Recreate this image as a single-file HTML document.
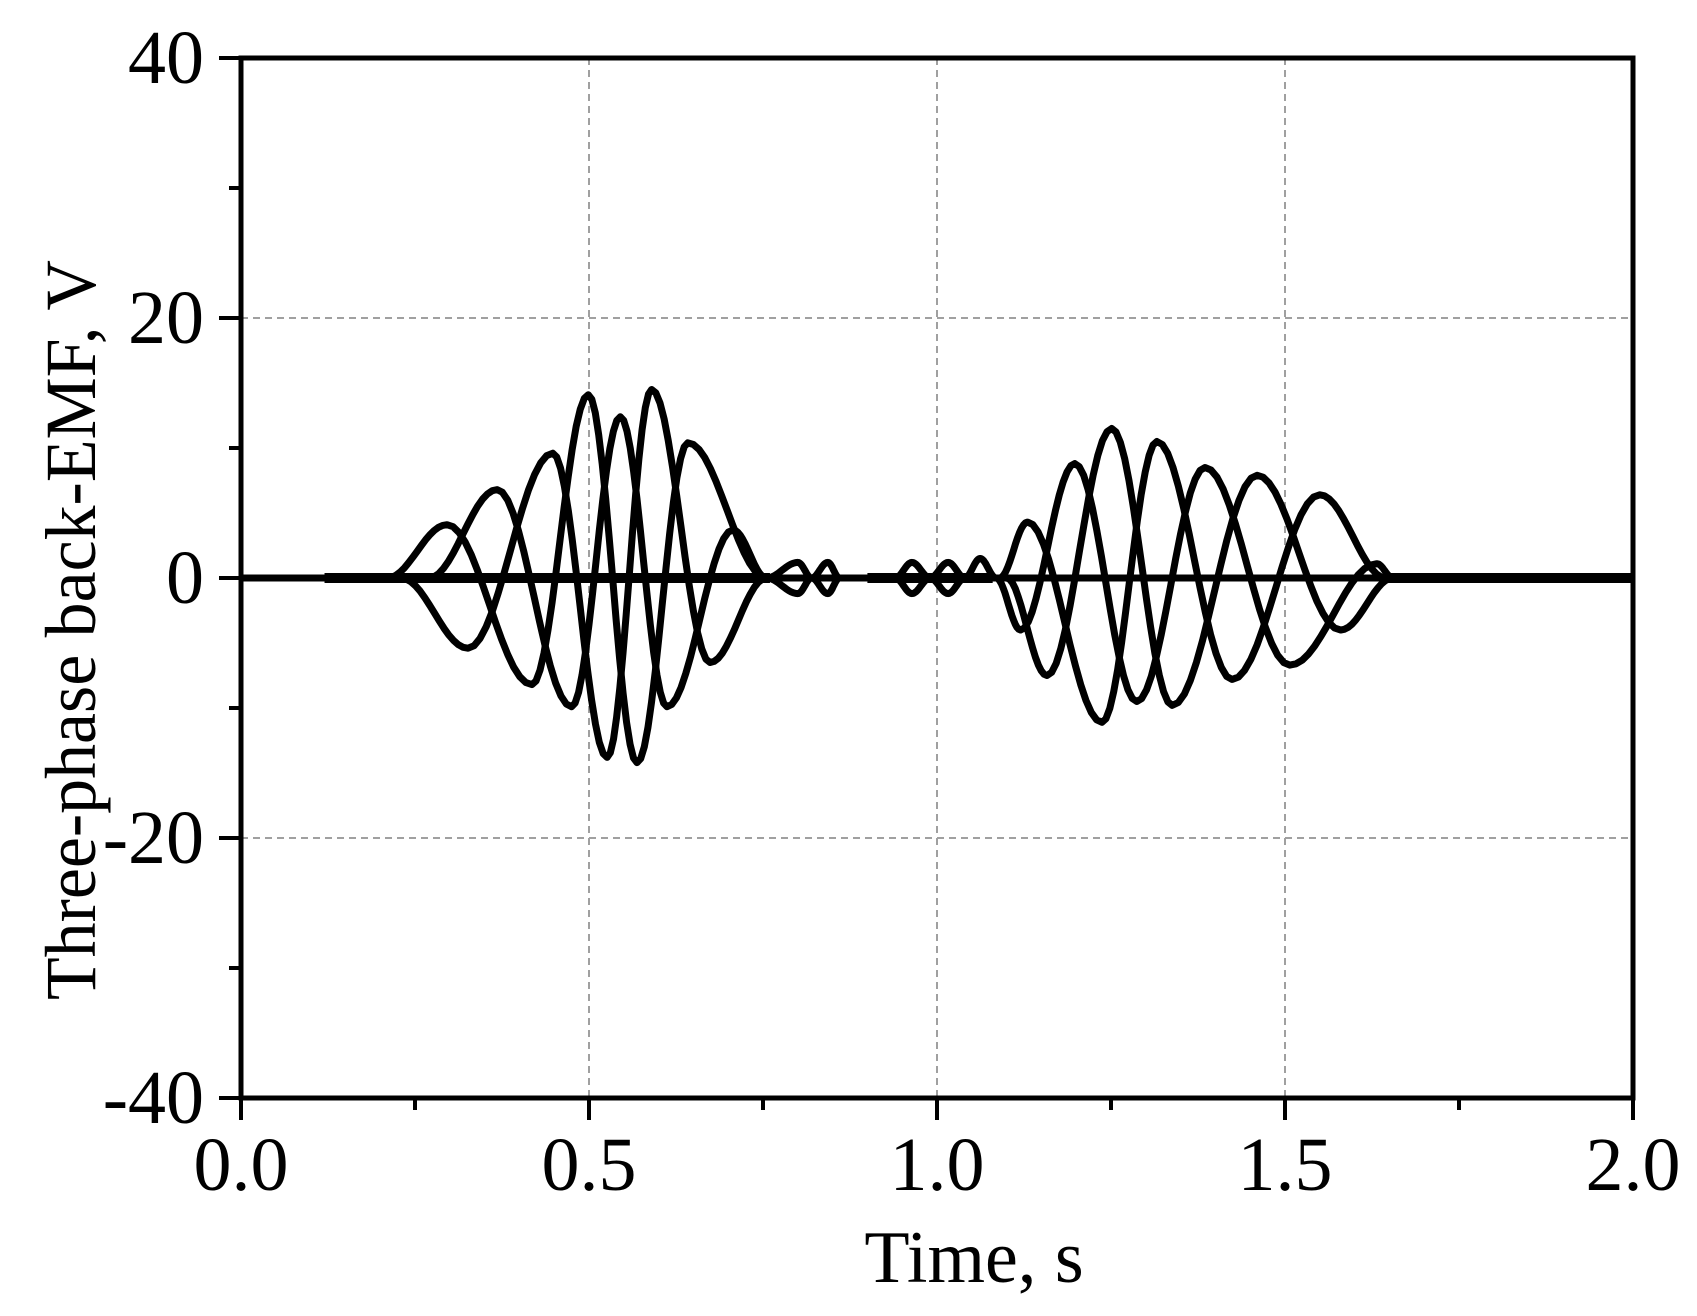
<!DOCTYPE html>
<html><head><meta charset="utf-8"><style>
html,body{margin:0;padding:0;background:#fff;}
svg{display:block;font-family:"Liberation Serif",serif;}
</style></head><body>
<svg id="chart" width="1697" height="1316" viewBox="0 0 1697 1316" xmlns="http://www.w3.org/2000/svg">
<g id="grid"></g>
<g id="series"></g>
<g id="axes"></g>
<text x="974" y="1282" font-size="74" text-anchor="middle">Time, s</text>
<text transform="translate(95,630) rotate(-90)" font-size="72" text-anchor="middle" textLength="740" lengthAdjust="spacingAndGlyphs">Three-phase back-EMF,  V</text>
</svg>
<script>
const xTicks=[0,0.5,1.0,1.5,2.0];
const xTickLabels=["0.0","0.5","1.0","1.5","2.0"];
const yTicks=[-40,-20,0,20,40];
const yTickLabels=["-40","-20","0","20","40"];
const phaseAT=[0,0.21,0.296,0.418,0.499,0.569,0.642,0.755,0.80,0.82,0.843,0.86,0.94,0.964,0.99,1.016,1.04,1.085,1.12,1.198,1.287,1.385,1.507,1.632,1.655,2];
const phaseAV=[0,0,4.1,-8.2,14.1,-14.2,10.4,0,1.2,0,1.2,0,0,1.2,0,1.2,0,0,-4,8.8,-9.5,8.5,-6.7,1.1,0,0];
const phaseBT=[0,0.27,0.368,0.475,0.545,0.612,0.707,0.755,0.80,0.82,0.843,0.86,2];
const phaseBV=[0,0,6.8,-9.9,12.4,-9.9,3.7,0,-1.2,0,-1.2,0,0];
const phaseCT=[0,0.23,0.326,0.448,0.526,0.590,0.674,0.755,0.94,0.964,0.99,1.016,1.04,1.062,1.085,1.09,1.13,1.237,1.316,1.424,1.55,1.645,1.655,2];
const phaseCV=[0,0,-5.4,9.6,-13.8,14.5,-6.5,0,0,-1.2,0,-1.2,0,1.5,0,0,4.3,-11.1,10.5,-7.8,6.4,0,0,0];
const phaseDT=[0,1.10,1.158,1.251,1.338,1.46,1.58,1.655,2];
const phaseDV=[0,0,-7.5,11.5,-9.8,7.9,-4,0,0];

const L=241,R=1633,T=58,B=1098;
const xs=t=>L+(t-0)/(2-0)*(R-L);
const ys=v=>B-(v+40)/80*(B-T);
const NS="http://www.w3.org/2000/svg";
function mk(tag,parent){const e=document.createElementNS(NS,tag);parent.appendChild(e);return e;}
const grid=document.getElementById('grid'),axes=document.getElementById('axes'),series=document.getElementById('series');

xTicks.forEach((t,i)=>{
  if(t>0&&t<2){const g=mk('line',grid);
  
  
  g.setAttribute('x1',xs(t));g.setAttribute('x2',xs(t));g.setAttribute('y1',T);g.setAttribute('y2',B);
  g.setAttribute('stroke','#a0a0a0');g.setAttribute('stroke-width','2');g.setAttribute('stroke-dasharray','7,5');}
  const tk=mk('line',axes);
  
  
  tk.setAttribute('x1',xs(t));tk.setAttribute('x2',xs(t));tk.setAttribute('y1',B);tk.setAttribute('y2',B+22);
  tk.setAttribute('stroke','#000');tk.setAttribute('stroke-width','4');
  const lb=mk('text',axes);
  
  
  lb.setAttribute('x',xs(t));lb.setAttribute('y',1190);lb.setAttribute('font-size','76');lb.setAttribute('text-anchor','middle');
  lb.textContent=xTickLabels[i];
});
for(let i=0;i<xTicks.length-1;i++){const t=(xTicks[i]+xTicks[i+1])/2;
  const tk=mk('line',axes);
  
  
  tk.setAttribute('x1',xs(t));tk.setAttribute('x2',xs(t));tk.setAttribute('y1',B);tk.setAttribute('y2',B+12);
  tk.setAttribute('stroke','#000');tk.setAttribute('stroke-width','4');}
yTicks.forEach((v,i)=>{
  if(v>-40&&v<40){const g=mk('line',grid);
  
  
  g.setAttribute('x1',L);g.setAttribute('x2',R);g.setAttribute('y1',ys(v));g.setAttribute('y2',ys(v));
  g.setAttribute('stroke','#a0a0a0');g.setAttribute('stroke-width','2');g.setAttribute('stroke-dasharray','7,5');}
  const tk=mk('line',axes);
  
  
  tk.setAttribute('x1',L-22);tk.setAttribute('x2',L);tk.setAttribute('y1',ys(v));tk.setAttribute('y2',ys(v));
  tk.setAttribute('stroke','#000');tk.setAttribute('stroke-width','4');
  const lb=mk('text',axes);
  
  
  lb.setAttribute('x',204);lb.setAttribute('y',ys(v)+25);lb.setAttribute('font-size','76');lb.setAttribute('text-anchor','end');
  lb.textContent=yTickLabels[i];
});
for(let i=0;i<yTicks.length-1;i++){const v=(yTicks[i]+yTicks[i+1])/2;
  const tk=mk('line',axes);
  
  
  tk.setAttribute('x1',L-12);tk.setAttribute('x2',L);tk.setAttribute('y1',ys(v));tk.setAttribute('y2',ys(v));
  tk.setAttribute('stroke','#000');tk.setAttribute('stroke-width','4');}
const frame=mk('rect',axes);


frame.setAttribute('x',L);frame.setAttribute('y',T);frame.setAttribute('width',R-L);frame.setAttribute('height',B-T);
frame.setAttribute('fill','none');frame.setAttribute('stroke','#000');frame.setAttribute('stroke-width','5');

const zl=mk('path',series);


zl.setAttribute('d','M'+xs(0.12)+','+ys(0)+' L'+xs(0.76)+','+ys(0)+' M'+xs(0.9)+','+ys(0)+' L'+xs(1.08)+','+ys(0)+' M'+xs(1.64)+','+ys(0)+' L'+xs(2)+','+ys(0));
zl.setAttribute('stroke','#000');zl.setAttribute('stroke-width','10');zl.setAttribute('fill','none');

function drawPhase(tArr,vArr,name){
  let d='';
  for(let i=0;i<tArr.length;i++){
    if(i===0){d+='M'+xs(tArr[0])+','+ys(vArr[0]);continue;}
    const t0=tArr[i-1],t1=tArr[i],v0=vArr[i-1],v1=vArr[i];
    const n=(v0===v1)?1:14;
    for(let k=1;k<=n;k++){const s=k/n;const t=t0+(t1-t0)*s;const v=v0+(v1-v0)*(1-Math.cos(Math.PI*s))/2;
      d+=' L'+xs(t).toFixed(1)+','+ys(v).toFixed(1);}
  }
  const p=mk('path',series);
  
  
  p.setAttribute('d',d);p.setAttribute('fill','none');p.setAttribute('stroke','#000');
  p.setAttribute('stroke-width','7');p.setAttribute('stroke-linejoin','round');
}
drawPhase(phaseAT,phaseAV,'phase-a-line');
drawPhase(phaseBT,phaseBV,'phase-b-line');
drawPhase(phaseCT,phaseCV,'phase-c-line');
drawPhase(phaseDT,phaseDV,'phase-d-line');
</script>
</body></html>
